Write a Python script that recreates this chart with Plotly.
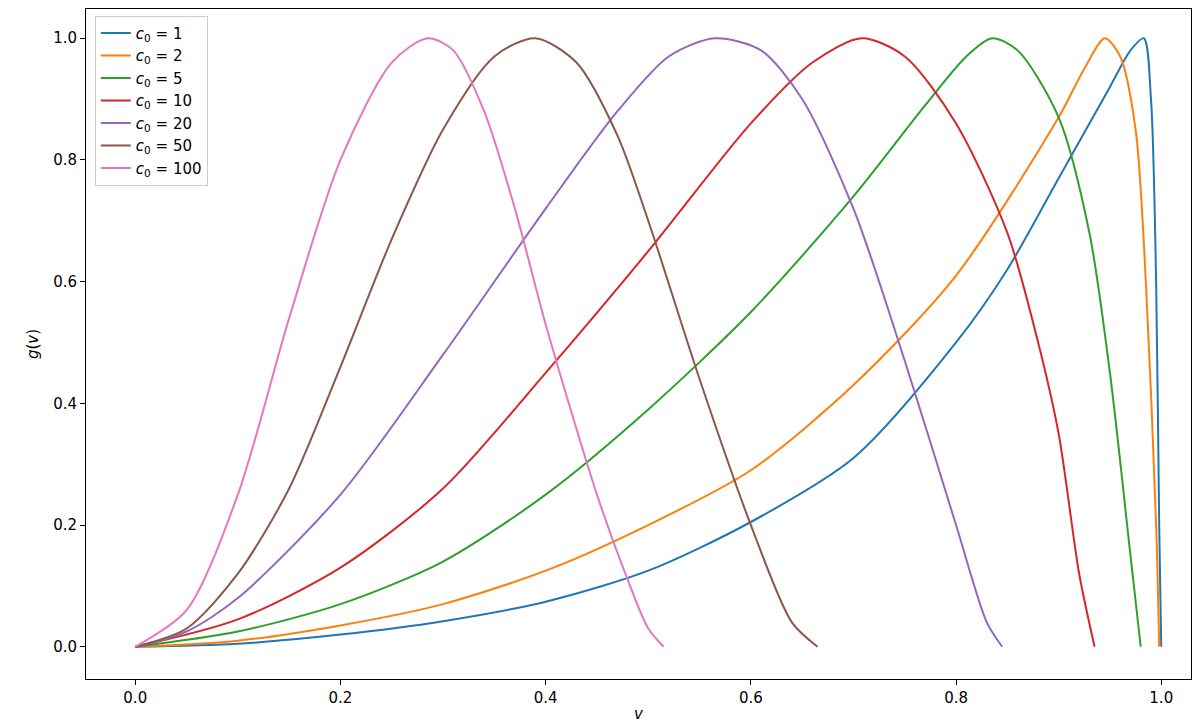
import plotly.graph_objects as go

# values
labels = ["1", "2", "5", "10", "20", "50", "100"]
colors = ["#1f77b4", "#ff7f0e", "#2ca02c", "#d62728", "#9467bd", "#8c564b", "#e377c2"]

x_c1 = [0.0, 0.1, 0.2, 0.3, 0.4, 0.5, 0.6, 0.7, 0.8, 0.85, 0.9, 0.95, 0.97, 0.983, 0.99, 0.995, 0.998, 1.0]
y_c1 = [0.0, 0.005, 0.02, 0.042, 0.074, 0.125, 0.205, 0.31, 0.5, 0.62, 0.77, 0.92, 0.98, 1.0, 0.9, 0.6, 0.2, 0.0]
x_c2 = [0.0, 0.1, 0.2, 0.3, 0.4, 0.5, 0.6, 0.7, 0.8, 0.9, 0.925, 0.945, 0.96, 0.975, 0.985, 0.995, 0.998]
y_c2 = [0.0, 0.01, 0.035, 0.07, 0.125, 0.2, 0.29, 0.43, 0.61, 0.87, 0.95, 1.0, 0.97, 0.85, 0.6, 0.2, 0.0]
x_c5 = [0.0, 0.1, 0.2, 0.3, 0.4, 0.5, 0.6, 0.7, 0.77, 0.81, 0.835, 0.86, 0.9, 0.93, 0.95, 0.97, 0.98]
y_c5 = [0.0, 0.025, 0.07, 0.14, 0.25, 0.39, 0.55, 0.74, 0.89, 0.97, 1.0, 0.98, 0.87, 0.68, 0.45, 0.15, 0.0]
x_c10 = [0.0, 0.1, 0.2, 0.3, 0.4, 0.5, 0.6, 0.66, 0.708, 0.75, 0.8, 0.85, 0.88, 0.9, 0.92, 0.935]
y_c10 = [0.0, 0.045, 0.13, 0.26, 0.45, 0.65, 0.86, 0.96, 1.0, 0.97, 0.86, 0.68, 0.5, 0.35, 0.12, 0.0]
x_c20 = [0.0, 0.05, 0.1, 0.2, 0.3, 0.4, 0.47, 0.52, 0.565, 0.61, 0.65, 0.7, 0.75, 0.8, 0.83, 0.845]
y_c20 = [0.0, 0.025, 0.08, 0.25, 0.48, 0.72, 0.88, 0.97, 1.0, 0.98, 0.9, 0.72, 0.47, 0.2, 0.04, 0.0]
x_c50 = [0.0, 0.05, 0.1, 0.15, 0.2, 0.25, 0.3, 0.35, 0.39, 0.43, 0.47, 0.5, 0.55, 0.6, 0.64, 0.665]
y_c50 = [0.0, 0.03, 0.12, 0.26, 0.46, 0.67, 0.85, 0.97, 1.0, 0.96, 0.84, 0.7, 0.44, 0.2, 0.04, 0.0]
x_c100 = [0.0, 0.05, 0.1, 0.15, 0.2, 0.25, 0.285, 0.31, 0.34, 0.37, 0.4, 0.45, 0.48, 0.5, 0.515]
y_c100 = [0.0, 0.06, 0.25, 0.54, 0.8, 0.96, 1.0, 0.98, 0.88, 0.72, 0.53, 0.25, 0.11, 0.03, 0.0]

xs = [x_c1, x_c2, x_c5, x_c10, x_c20, x_c50, x_c100]
ys = [y_c1, y_c2, y_c5, y_c10, y_c20, y_c50, y_c100]

fig = go.Figure()
for lab, col, x, y in zip(labels, colors, xs, ys):
    fig.add_trace(go.Scatter(
        x=x, y=y, mode="lines", line=dict(color=col, width=2, shape="spline", smoothing=0.8),
        name=f"<i>c</i><sub>0</sub> = {lab}",
    ))

axis_style = dict(
    showgrid=False, zeroline=False, showline=True, linecolor="black", linewidth=1,
    mirror=True, ticks="outside", ticklen=5, tickcolor="black",
    tickfont=dict(size=15, color="black"),
)
fig.update_xaxes(range=[-0.048, 1.029], tickvals=[0, 0.2, 0.4, 0.6, 0.8, 1.0],
                 tickformat=".1f", title=dict(text="<i>v</i>", standoff=2, font=dict(size=15)), **axis_style)
fig.update_yaxes(range=[-0.053, 1.048], tickvals=[0, 0.2, 0.4, 0.6, 0.8, 1.0],
                 tickformat=".1f", title=dict(text="<i>g</i>(<i>v</i>)", standoff=10, font=dict(size=15)), **axis_style)

fig.update_layout(
    width=1200, height=727,
    plot_bgcolor="white", paper_bgcolor="white",
    font=dict(family="DejaVu Sans", size=15, color="black"),
    margin=dict(l=78, r=17, t=1, b=56),
    legend=dict(x=0.008, y=0.99, xanchor="left", yanchor="top",
                bordercolor="#cccccc", borderwidth=1, bgcolor="rgba(255,255,255,0.8)",
                font=dict(size=15)),
)

fig.write_html("out.html")
